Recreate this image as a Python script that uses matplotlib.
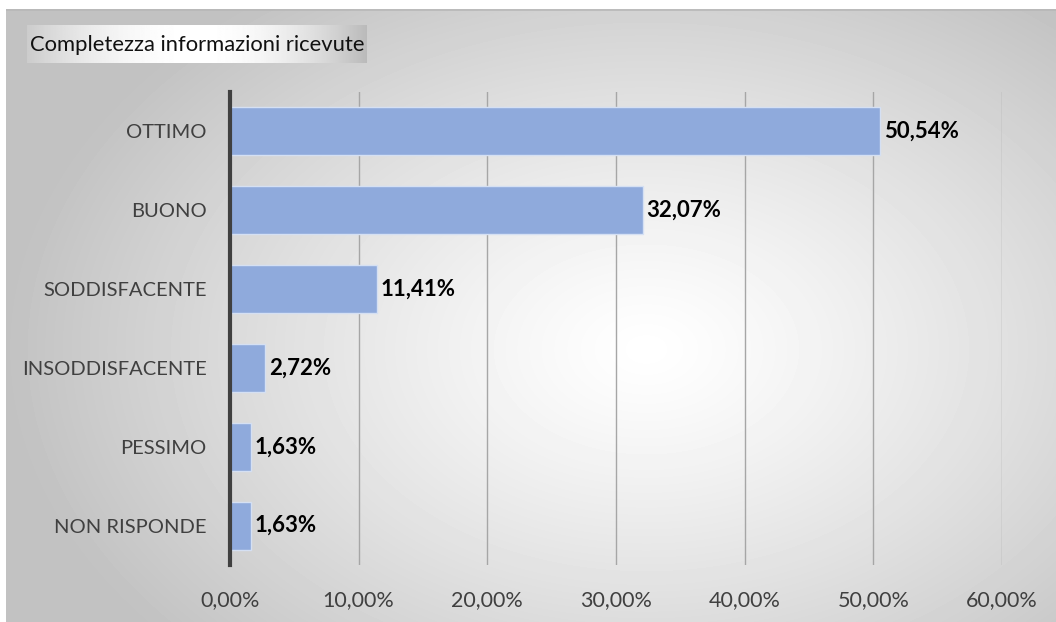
import numpy as np
import matplotlib.pyplot as plt
from matplotlib.ticker import FuncFormatter

categories = ['OTTIMO', 'BUONO', 'SODDISFACENTE', 'INSODDISFACENTE', 'PESSIMO', 'NON RISPONDE']
values = [50.54, 32.07, 11.41, 2.72, 1.63, 1.63]
x_ticks = [0, 10, 20, 30, 40, 50, 60]
title = 'Completezza informazioni ricevute'

plt.rcParams['font.family'] = ['Lato', 'DejaVu Sans']

W, H = 1056, 622
fig = plt.figure(figsize=(W / 100, H / 100), dpi=100)
fig.patch.set_facecolor('white')

# --- background panel with radial gradient ---
bg = fig.add_axes([6 / W, 0, 1 - 6 / W, 1 - 9 / H])
bg.set_axis_off()
gy, gx = np.mgrid[0:613, 0:1050]
d = np.sqrt(((gx - 640) / 640.0) ** 2 + ((gy - 340) / 440.0) ** 2)
shade = 1 - 0.24 * np.clip(d, 0, 1) ** 1.2
bg.imshow(shade, cmap='gray', vmin=0, vmax=1, aspect='auto', interpolation='bilinear')
bg.axhline(0.5, color='#b8b8b8', lw=1.2)

# --- title box with horizontal gradient ---
tb = fig.add_axes([27 / W, 1 - 63 / H, 340 / W, 38 / H])
tb.set_axis_off()
t = np.linspace(-1, 1, 400)
row = 1 - 0.2 * np.abs(t) ** 2
row[t > 0] = 1 - 0.27 * np.abs(t[t > 0]) ** 2
tb.imshow(row[None, :], cmap='gray', vmin=0, vmax=1, aspect='auto', interpolation='bilinear')
fig.text(30 / W, 1 - 45 / H, title, fontsize=15.8, color='#111111', va='center', ha='left')

# --- main chart ---
ax = fig.add_axes([230 / W, 1 - 565 / H, 772 / W, 473 / H])
ax.patch.set_alpha(0)
y = np.arange(len(categories))
ax.barh(y, values, height=0.61, color='#8faadc', edgecolor='#d5e0f3', linewidth=1.0, zorder=3)
for yi, v in zip(y, values):
    ax.text(v + 0.3, yi, f'{v:.2f}%'.replace('.', ','), va='center', ha='left',
            fontsize=16, fontweight='bold', color='black', zorder=4)

ax.set_xlim(0, 60)
ax.set_ylim(len(categories) - 0.5, -0.5)
ax.set_xticks(x_ticks)
ax.xaxis.set_major_formatter(FuncFormatter(lambda v, p: f'{v:.2f}%'.replace('.', ',')))
ax.set_yticks(y)
ax.set_yticklabels(categories)
ax.tick_params(axis='both', length=0, labelsize=14.5, labelcolor='#404040')
ax.tick_params(axis='x', pad=18, labelsize=15.5)
ax.tick_params(axis='y', pad=17)
ax.grid(axis='x', color='#a6a6a6', linewidth=1.0, zorder=0)
for s in ['top', 'right', 'bottom']:
    ax.spines[s].set_visible(False)
ax.spines['left'].set_color('#404040')
ax.spines['left'].set_linewidth(3)
ax.spines['left'].set_zorder(5)

fig.savefig('out.png', dpi=100)
